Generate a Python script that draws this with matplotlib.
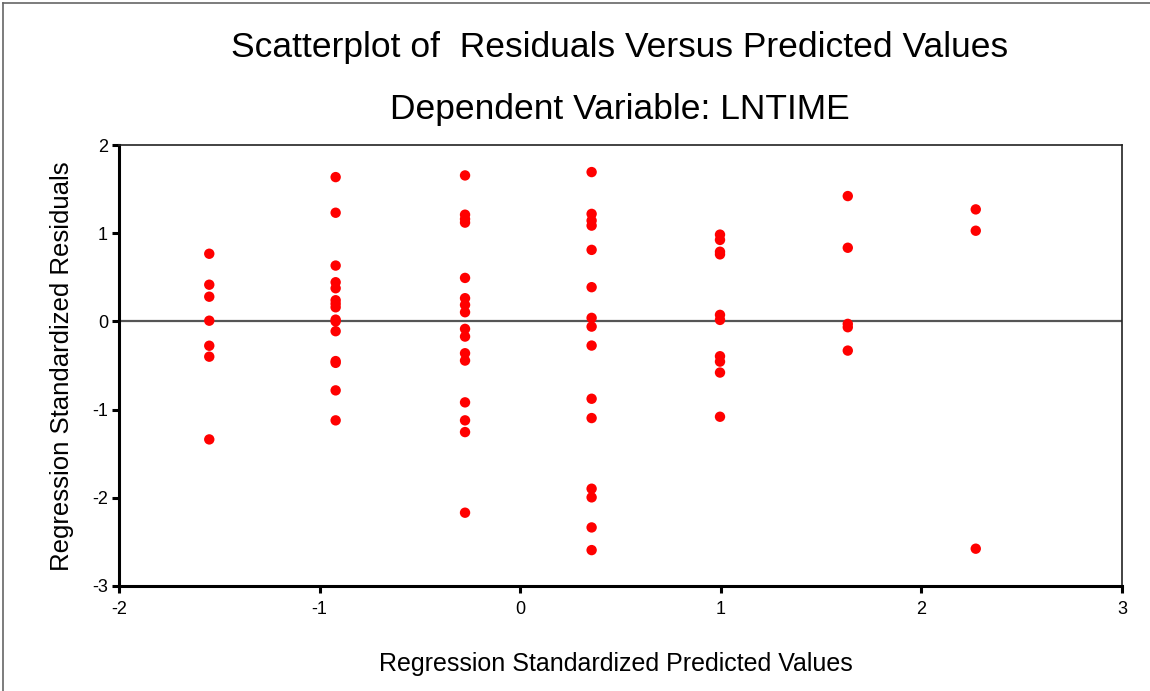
import numpy as np
import matplotlib
matplotlib.use("Agg")
import matplotlib.pyplot as plt
from matplotlib.lines import Line2D

plt.rcParams["font.family"] = ["Liberation Sans", "DejaVu Sans"]
plt.rcParams["axes.unicode_minus"] = False

# predicted value groups (x) and the residuals found at each
PRED = [-1.55, -0.92, -0.275, 0.356, 0.996, 1.633, 2.271]
RESID = [
    [0.767, 0.416, 0.280, 0.008, -0.276, -0.400, -1.338],
    [1.636, 1.232, 0.633, 0.444, 0.376, 0.24, 0.20, 0.16, 0.02, 0.0,
     -0.111, -0.45, -0.47, -0.782, -1.122],
    [1.655, 1.21, 1.16, 1.12, 0.493, 0.263, 0.187, 0.104, -0.085, -0.172,
     -0.361, -0.444, -0.918, -1.122, -1.255, -2.169],
    [1.693, 1.219, 1.143, 1.086, 0.811, 0.388, 0.040, -0.059, -0.274,
     -0.877, -1.096, -1.897, -1.995, -2.336, -2.593],
    [0.984, 0.924, 0.79, 0.76, 0.074, 0.017, -0.395, -0.456, -0.580, -1.081],
    [1.421, 0.835, -0.028, -0.066, -0.331],
    [1.270, 1.028, -2.577],
]

TITLE = "Scatterplot of  Residuals Versus Predicted Values"
SUBTITLE = "Dependent Variable: LNTIME"
XLABEL = "Regression Standardized Predicted Values"
YLABEL = "Regression Standardized Residuals"

xs = np.concatenate([[p] * len(r) for p, r in zip(PRED, RESID)])
ys = np.concatenate(RESID)

fig = plt.figure(figsize=(11.5, 6.91), dpi=100)
ax = fig.add_axes([119 / 1150, 105 / 691, 1003 / 1150, 441 / 691])

ax.axhline(0, color="#555555", linewidth=1.6, zorder=1)
ax.scatter(xs, ys, s=56, color="#ff0000", edgecolors="none", zorder=3)

ax.set_xlim(-2, 3)
ax.set_ylim(-3, 2)
ax.set_xticks([-2, -1, 0, 1, 2, 3])
ax.set_yticks([-3, -2, -1, 0, 1, 2])
ax.tick_params(direction="out", length=5, width=2.2, labelsize=13,
               color="black")
ax.tick_params(axis="x", pad=6)
ax.tick_params(axis="y", pad=3)

for side in ("left", "bottom"):
    ax.spines[side].set_linewidth(2.2)
    ax.spines[side].set_color("black")
for side in ("top", "right"):
    ax.spines[side].set_linewidth(1.2)
    ax.spines[side].set_color("#222222")

fig.text(620 / 1150, 1 - 47 / 691, TITLE, ha="center", va="center", fontsize=25.5)
fig.text(620 / 1150, 1 - 110 / 691, SUBTITLE, ha="center", va="center", fontsize=25.5)
fig.text(616 / 1150, 1 - 664 / 691, XLABEL, ha="center", va="center", fontsize=18)
fig.text(62 / 1150, 1 - 366 / 691, YLABEL, ha="center", va="center",
         rotation=90, fontsize=18.5)

# outer frame of the exported chart
fig.add_artist(Line2D([3 / 1150, 1], [1 - 3 / 691, 1 - 3 / 691],
                      transform=fig.transFigure, color="#666666", linewidth=1.2))
fig.add_artist(Line2D([3 / 1150, 3 / 1150], [0, 1 - 3 / 691],
                      transform=fig.transFigure, color="#666666", linewidth=1.2))

fig.savefig("out.png", dpi=100)
